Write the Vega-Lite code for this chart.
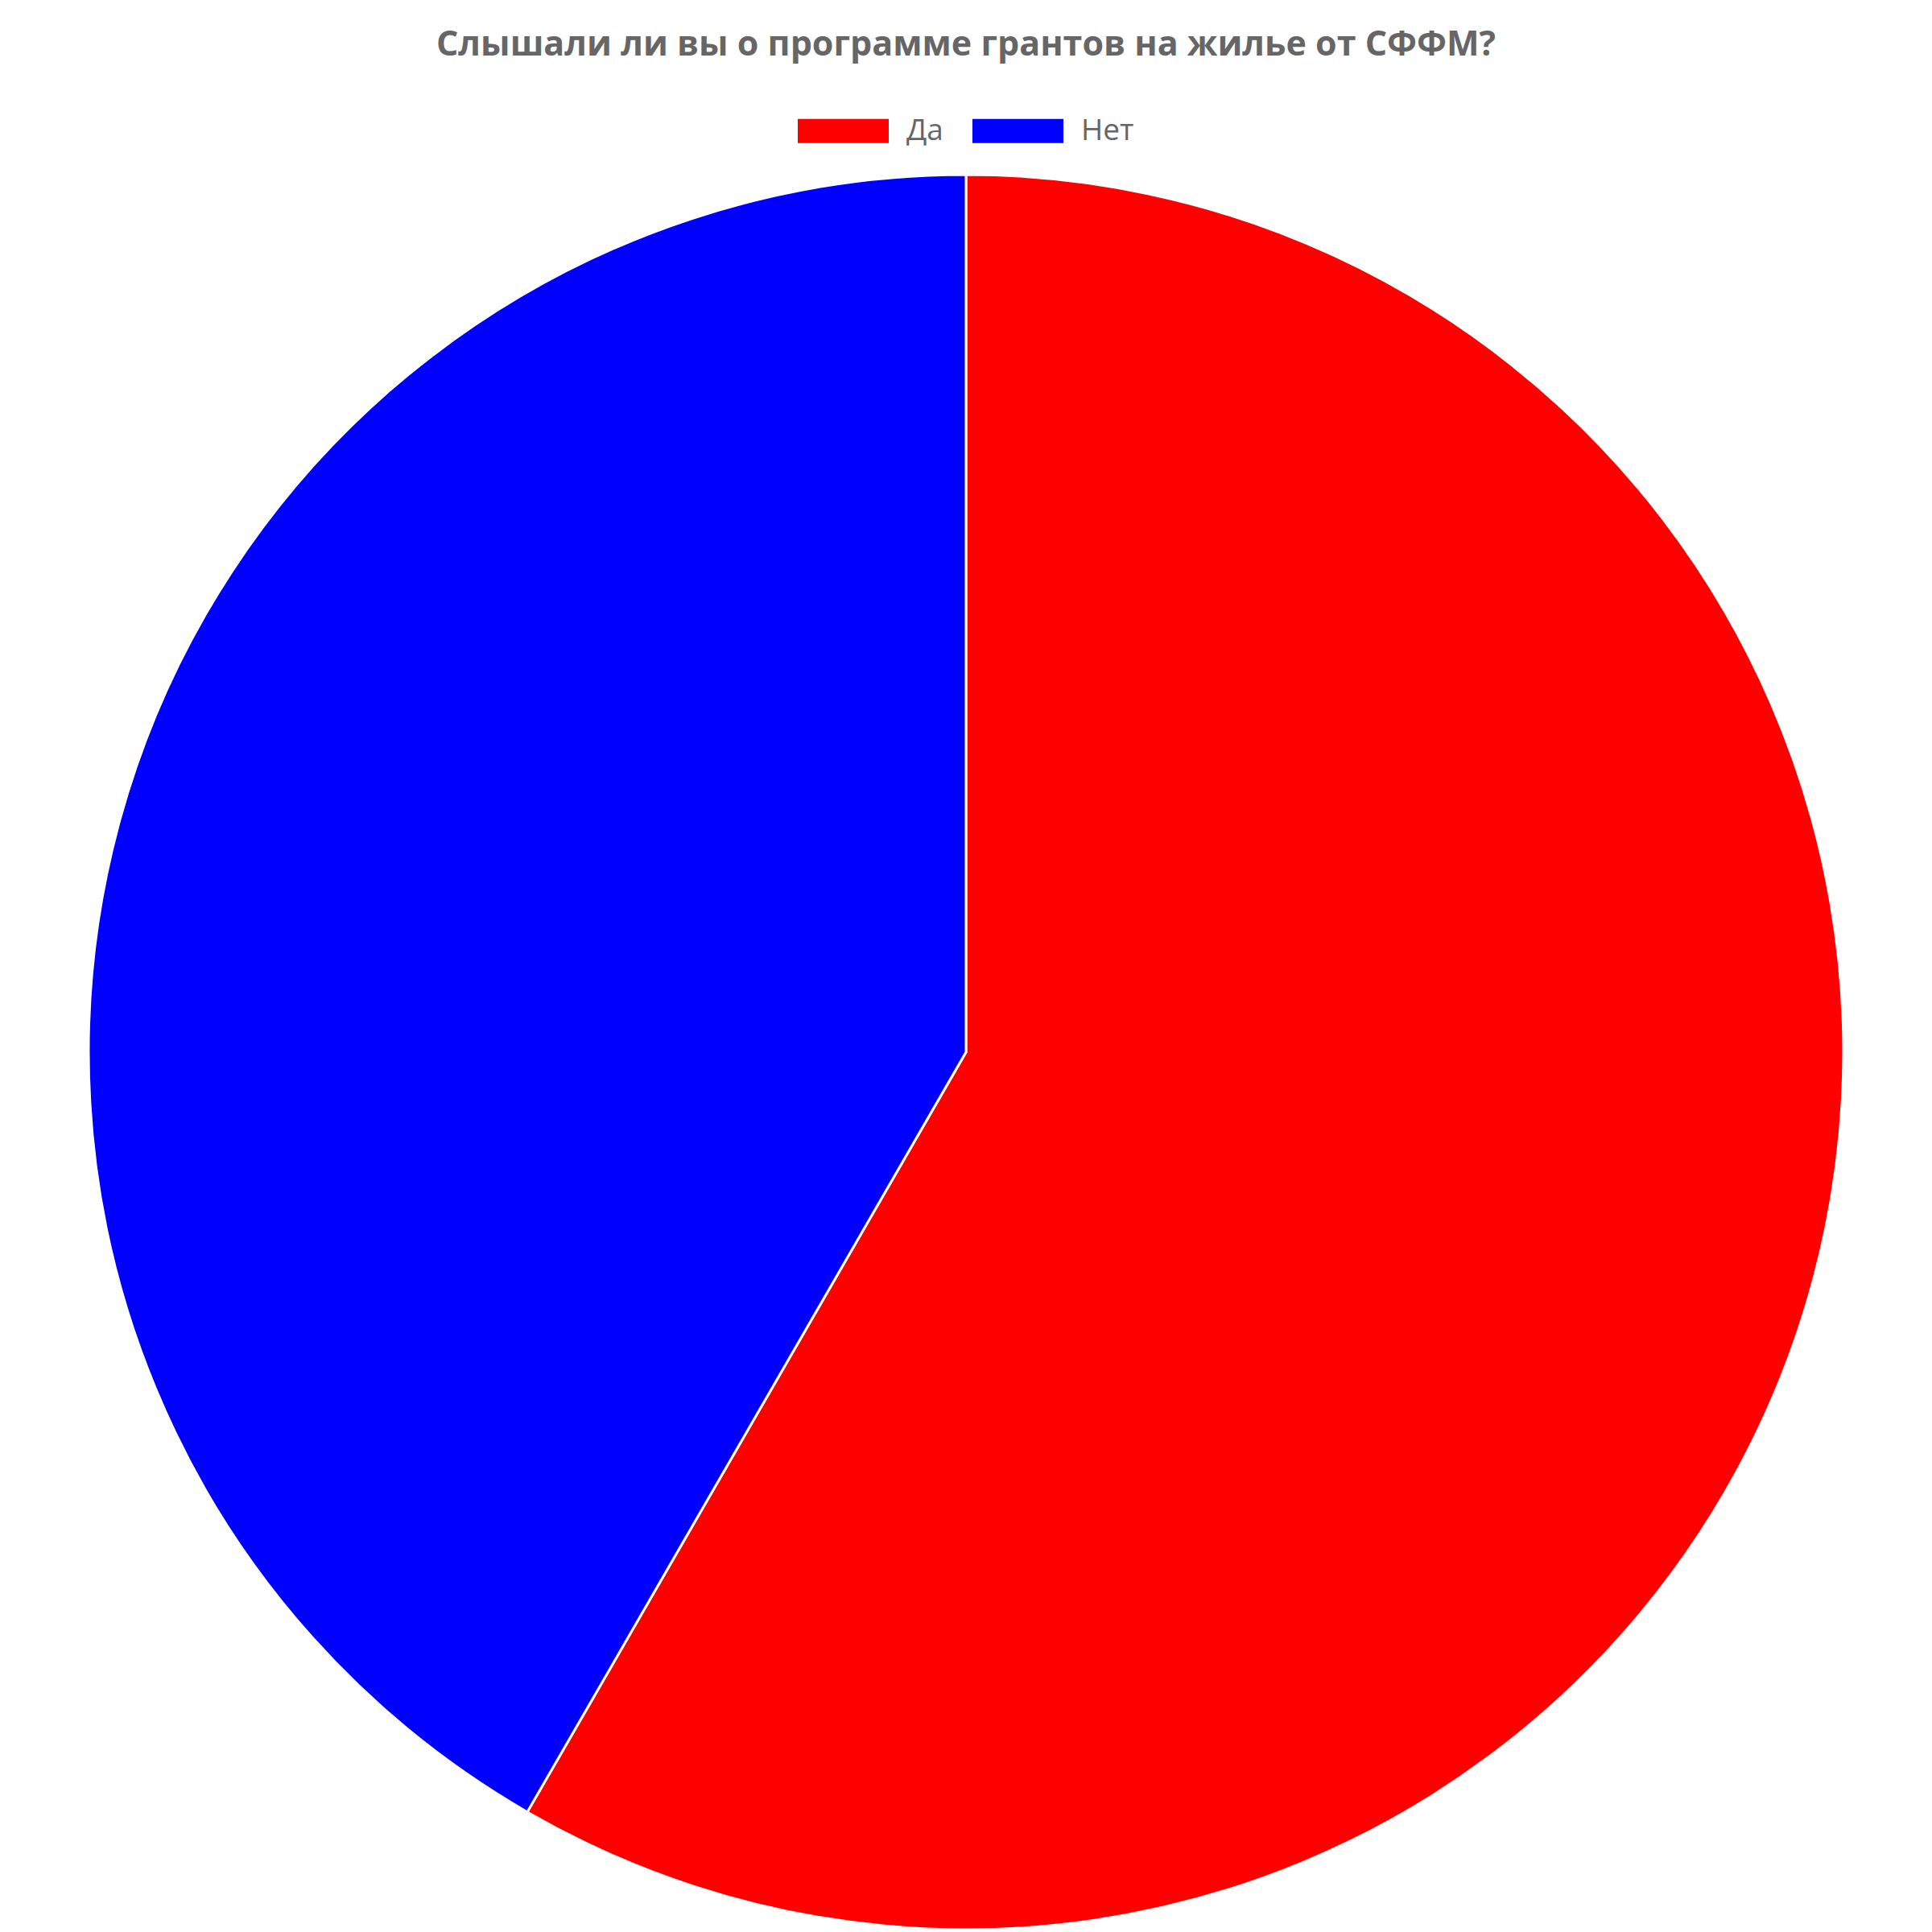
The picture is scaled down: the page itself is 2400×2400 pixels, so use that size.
{
  "$schema": "https://vega.github.io/schema/vega-lite/v6.json",
  "width": 2400,
  "height": 2400,
  "autosize": {"type": "fit", "contains": "padding"},
  "padding": {"top": 35, "left": 0, "right": 0, "bottom": 0},
  "background": "white",
  "config": {
    "view": {"stroke": null},
    "legend": {"layout": {"top": {"anchor": "middle"}}}
  },
  "title": {
    "text": "Слышали ли вы о программе грантов на жилье от СФФМ?",
    "font": "Open Sans",
    "fontSize": 43,
    "fontWeight": "bold",
    "color": "#666666",
    "anchor": "middle",
    "offset": 28
  },
  "data": {
    "values": [
      {"answer": "Да", "count": 7},
      {"answer": "Нет", "count": 5}
    ]
  },
  "mark": {"type": "arc", "outerRadius": 1090, "stroke": "white", "strokeWidth": 3},
  "encoding": {
    "theta": {"field": "count", "type": "quantitative", "stack": true},
    "order": {"field": "answer", "sort": "ascending"},
    "color": {
      "field": "answer",
      "type": "nominal",
      "scale": {"domain": ["Да", "Нет"], "range": ["#ff0000", "#0000ff"]},
      "legend": {
        "orient": "top",
        "direction": "horizontal",
        "title": null,
        "symbolType": "M-1,-0.265H1V0.265H-1Z",
        "symbolSize": 12769,
        "symbolStrokeWidth": 0,
        "symbolOpacity": 1,
        "labelFont": "Open Sans",
        "labelFontSize": 37,
        "labelColor": "#666666",
        "labelOffset": 22,
        "columnPadding": 36,
        "offset": 33
      }
    }
  }
}
